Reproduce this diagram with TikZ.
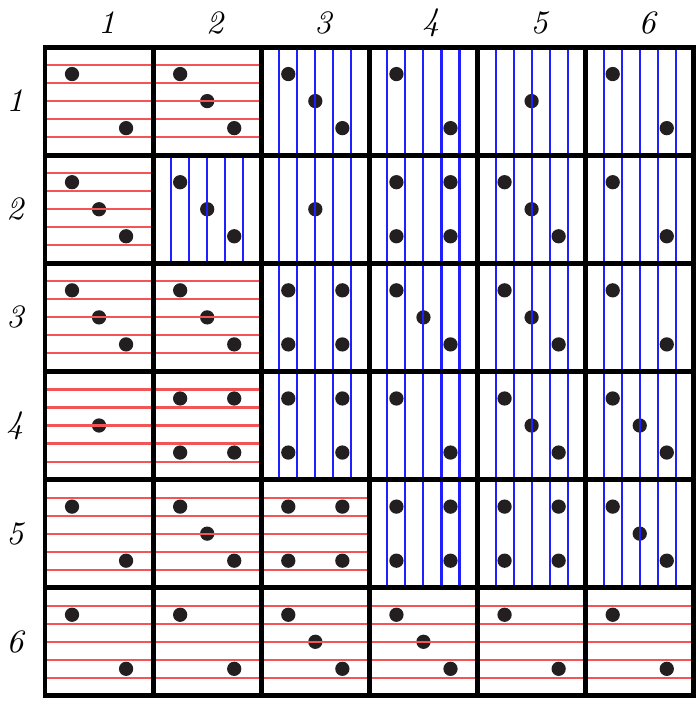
\documentclass[tikz,border=0pt]{standalone}
\usetikzlibrary{positioning}
\definecolor{hatchred}{HTML}{F25555}
\definecolor{hatchblue}{HTML}{2020FF}
\definecolor{pipcol}{HTML}{231F20}
\newcommand{\pip}[2]{(#1,#2) circle (0.066)}
\newcommand{\diepips}[1]{%
  \ifcase#1\or
    \pip{0}{0}%
  \or
    \pip{-.25}{.25}\pip{.25}{-.25}%
  \or
    \pip{-.25}{.25}\pip{0}{0}\pip{.25}{-.25}%
  \or
    \pip{-.25}{.25}\pip{.25}{.25}\pip{-.25}{-.25}\pip{.25}{-.25}%
  \fi}

\begin{document}
\begin{tikzpicture}[
  hred/.style={draw=hatchred, line width=0.55pt},
  hblue/.style={draw=hatchblue, line width=0.54pt},
  cellb/.style={draw=black, line width=1.3pt, line join=miter},
  lab/.style={font=\fontsize{8.6}{10}\selectfont\itshape, inner sep=0pt}
]
  \useasboundingbox (-0.416,-0.066) rectangle (6.056,6.435);
  % Pips
  \foreach \r/\faces in {1/{2,3,3,2,1,2},2/{3,3,1,4,3,2},3/{3,3,4,3,3,2},4/{1,4,4,2,3,3},5/{2,3,4,4,4,3},6/{2,2,3,3,2,2}}{
    \foreach \f [count=\c] in \faces {\fill[pipcol, shift={(\c-0.5,6.5-\r)}] \diepips{\f};}
  }
  % Horizontal hatching
  \path[hred] \foreach \r/\n in {1/2,2/1,3/2,4/2,5/3,6/6}{\foreach \k in {1,...,5}{(0,6-\r+\k/6) -- (\n,6-\r+\k/6)}};
  % Vertical hatching
  \path[hblue] \foreach \r/\n in {1/2,2/1,3/2,4/2,5/3}{\foreach \c in {\n,...,5}{\foreach \k in {1,...,5}{(\c+\k/6,7-\r) -- (\c+\k/6,6-\r)}}};
  % Cells
  \draw[cellb, step=1] (0,0) grid (6,6);
  \draw[cellb] (0,0) rectangle (6,6);
  % Labels
  \foreach \i in {1,...,6}{\node[lab] (col\i) at (\i-0.43, 6.222) {\i};}
  \foreach \i in {1,...,6}{\node[lab] (row\i) at (-0.277, 6.5-\i) {\i};}
\end{tikzpicture}
\end{document}
